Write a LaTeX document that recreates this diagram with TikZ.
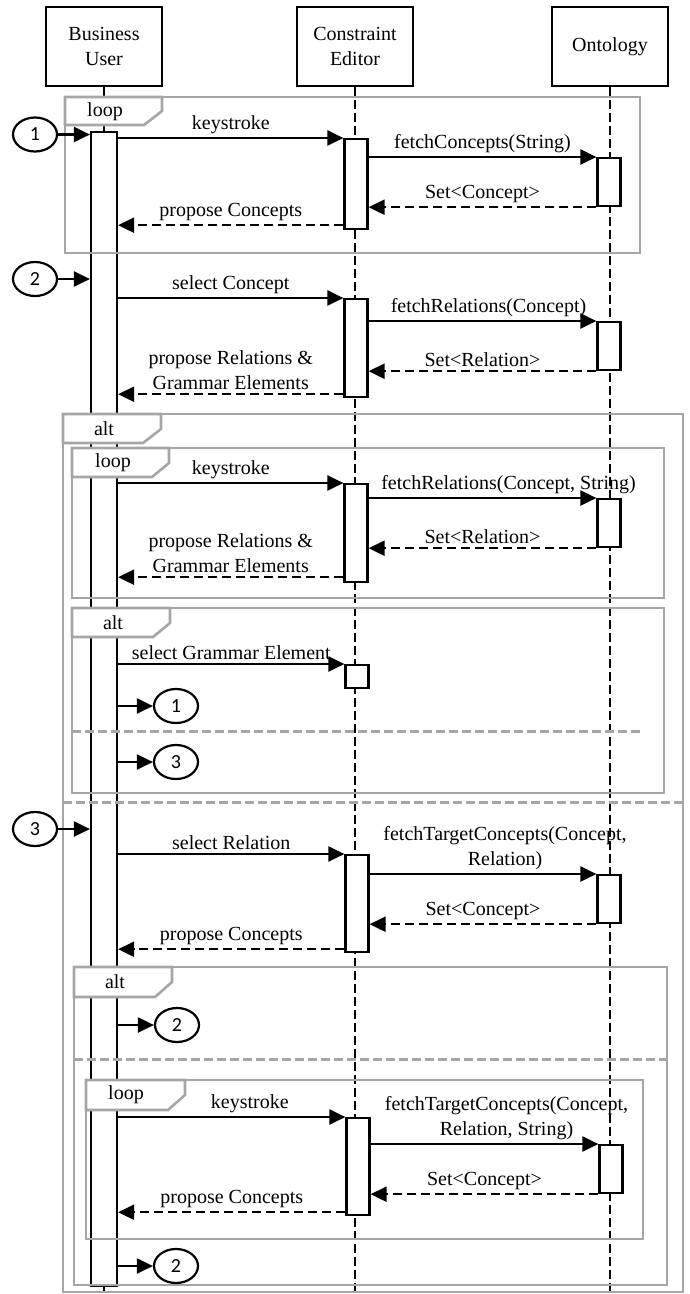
\documentclass[tikz,border=0pt]{standalone}
\usepackage{fontspec}
\setmainfont{Liberation Serif}
\newfontfamily\numfont{Carlito}
\usepackage{xcolor}
\usepackage{tikz}
\usetikzlibrary{arrows.meta,shapes.geometric}

\definecolor{frameGray}{RGB}{166,166,166}
\tikzset{
  head/.style={draw, line width=2.6pt, minimum width=116pt, minimum height=79pt, align=center},
  life/.style={line width=1.7pt, dash pattern=on 9pt off 4pt},
  actbar/.style={draw, fill=white, line width=2.2pt, minimum width=23pt, inner sep=0pt, anchor=north},
  msg/.style={line width=2.2pt, -{Triangle[length=16pt,width=15pt]}},
  ret/.style={msg, dash pattern=on 9pt off 5pt},
  lbl/.style={midway, above, inner sep=3pt, align=center},
  frame/.style={draw=frameGray, line width=2.6pt},
  tab/.style={frame, fill=white},
  sep/.style={draw=frameGray, line width=3pt, dash pattern=on 9pt off 4pt},
  ref/.style={draw, ellipse, line width=2.2pt, minimum width=44pt, minimum height=34pt, inner sep=0pt, font=\numfont\fontsize{20}{24}\selectfont}
}

\begin{document}
\begin{tikzpicture}[x=1pt,y=-1pt, every node/.style={font=\fontsize{20}{25}\selectfont}]
\useasboundingbox (0,0) rectangle (689,1294);
% heads and life lines
\node[head] (bu) at (104,46.5) {Business\\User};
\node[head] (ce) at (355,46.5) {Constraint\\Editor};
\node[head] (ont) at (610,46.5) {Ontology};
\draw[life] (bu.south) -- ++(0,1215);
\draw[life] (ce.south) -- ++(0,1215);
\draw[life] (ont.south) -- ++(0,1215);
% activation bars
\node[actbar, minimum width=26pt, minimum height=1154pt] (buact) at (104,131) {};
\node[actbar, minimum height=90pt] (ce1) at (356,138) {};
\node[actbar, minimum height=98pt] (ce2) at (356,298) {};
\node[actbar, minimum height=98pt] (ce3) at (356,483) {};
\node[actbar, minimum height=23pt] (ce4) at (357,664) {};
\node[actbar, minimum height=97pt] (ce5) at (357,854) {};
\node[actbar, minimum height=97pt] (ce6) at (358,1117) {};
\node[actbar, minimum height=48pt] (o1) at (609,157) {};
\node[actbar, minimum height=48pt] (o2) at (609,321) {};
\node[actbar, minimum height=48pt] (o3) at (609,498) {};
\node[actbar, minimum height=48pt] (o4) at (609,874) {};
\node[actbar, minimum height=48pt] (o5) at (611,1144) {};
% combined fragments
\draw[frame] (65,97) rectangle (640,253);
\draw[tab] (65,97) -- (162,97) -- (162,111) -- (144,125) -- (65,125) -- cycle;
\node (f1) at (105,112) {loop};
\draw[frame] (63,414) rectangle (683,1292);
\draw[tab] (63,414) -- (161,414) -- (161,429) -- (143,443) -- (63,443) -- cycle;
\node (f2) at (104,429) {alt};
\draw[sep] (63,802) -- (683,802);
\draw[frame] (72,448) rectangle (664,598);
\draw[tab] (72,448) -- (169,448) -- (169,463) -- (152,477) -- (72,477) -- cycle;
\node (f3) at (113,463) {loop};
\draw[frame] (72,608) rectangle (664,793);
\draw[tab] (72,608) -- (170,608) -- (170,623) -- (153,637) -- (72,637) -- cycle;
\node (f4) at (113,623) {alt};
\draw[sep] (72,731) -- (642,731);
\draw[frame] (74,967) rectangle (667,1285);
\draw[tab] (74,967) -- (172,967) -- (172,982) -- (155,997) -- (74,997) -- cycle;
\node (f5) at (115,982) {alt};
\draw[sep] (74,1059) -- (667,1059);
\draw[frame] (86,1080) rectangle (643,1239);
\draw[tab] (86,1080) -- (185,1080) -- (185,1095) -- (168,1110) -- (86,1110) -- cycle;
\node (f6) at (126,1095) {loop};
% references
\node[ref] (r1) at (35,134.5) {1};
\node[ref] (r2) at (35,279) {2};
\node[ref] (r3) at (35,829) {3};
\node[ref] (g1) at (176,706) {1};
\node[ref] (g3) at (176,762) {3};
\node[ref] (g2) at (177,1025) {2};
\node[ref] (g4) at (176,1266) {2};
\draw[msg] (r1.east) -- (r1.east -| buact.west);
\draw[msg] (r2.east) -- (r2.east -| buact.west);
\draw[msg] (r3.east) -- (r3.east -| buact.west);
\draw[msg] (g1.west -| buact.east) -- (g1.west);
\draw[msg] (g3.west -| buact.east) -- (g3.west);
\draw[msg] (g2.west -| buact.east) -- (g2.west);
\draw[msg] (g4.west -| buact.east) -- (g4.west);
% first loop
\draw[msg] (buact.east |- ce1.north) -- (ce1.north west) node[lbl] (m1) {keystroke};
\draw[msg] (ce1.east |- o1.north) -- (o1.north west) node[lbl] (m2) {fetchConcepts(String)};
\draw[ret] (o1.south west) -- (ce1.east |- o1.south) node[lbl] (m3) {Set<Concept>};
\coordinate (p1) at ([yshift=5pt]ce1.south west);
\draw[ret] (p1) -- (p1 -| buact.east) node[lbl] (m4) {propose Concepts};
% select concept
\draw[msg] (buact.east |- ce2.north) -- (ce2.north west) node[lbl] (m5) {select Concept};
\draw[msg] (ce2.east |- o2.north) -- (o2.north west) node[lbl, xshift=6pt] (m6) {fetchRelations(Concept)};
\draw[ret] (o2.south west) -- (ce2.east |- o2.south) node[lbl] (m7) {Set<Relation>};
\coordinate (p2) at ([yshift=4pt]ce2.south west);
\draw[ret] (p2) -- (p2 -| buact.east) node[lbl] (m8) {propose Relations \&\\Grammar Elements};
% second loop
\draw[msg] (buact.east |- ce3.north) -- (ce3.north west) node[lbl] (m9) {keystroke};
\draw[msg] (ce3.east |- o3.north) -- (o3.north west) node[lbl, xshift=26pt] (m10) {fetchRelations(Concept, String)};
\draw[ret] (o3.south west) -- (ce3.east |- o3.south) node[lbl] (m11) {Set<Relation>};
\coordinate (p3) at ([yshift=6pt]ce3.south west);
\draw[ret] (p3) -- (p3 -| buact.east) node[lbl] (m12) {propose Relations \&\\Grammar Elements};
% grammar element
\draw[msg] (buact.east |- ce4.north) -- (ce4.north west) node[lbl] (m13) {select Grammar Element};
% select relation
\draw[msg] (buact.east |- ce5.north) -- (ce5.north west) node[lbl] (m14) {select Relation};
\draw[msg] (ce5.east |- o4.north) -- (o4.north west) node[lbl, xshift=22pt] (m15) {fetchTargetConcepts(Concept,\\Relation)};
\draw[ret] (o4.south west) -- (ce5.east |- o4.south) node[lbl] (m16) {Set<Concept>};
\coordinate (p4) at ([yshift=4pt]ce5.south west);
\draw[ret] (p4) -- (p4 -| buact.east) node[lbl] (m17) {propose Concepts};
% third loop
\draw[msg] (buact.east |- ce6.north) -- (ce6.north west) node[lbl, xshift=18pt] (m18) {keystroke};
\draw[msg] (ce6.east |- o5.north) -- (o5.north west) node[lbl, xshift=22pt] (m19) {fetchTargetConcepts(Concept,\\Relation, String)};
\draw[ret] (o5.south west) -- (ce6.east |- o5.south) node[lbl] (m20) {Set<Concept>};
\coordinate (p5) at ([yshift=4pt]ce6.south west);
\draw[ret] (p5) -- (p5 -| buact.east) node[lbl] (m21) {propose Concepts};
\end{tikzpicture}
\end{document}
